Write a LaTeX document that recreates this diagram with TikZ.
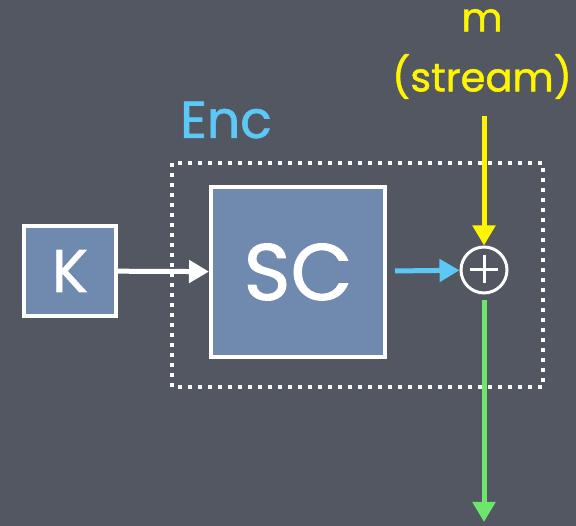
\documentclass[tikz,border=0pt]{standalone}
\usepackage{fontspec}
\setmainfont{Poppins}[FakeBold=1.2]
\usetikzlibrary{arrows.meta, positioning}
\definecolor{slate}{RGB}{82,87,98}
\definecolor{boxblue}{RGB}{112,137,174}
\definecolor{encblue}{RGB}{92,200,245}
\definecolor{streamyellow}{RGB}{255,245,0}
\definecolor{outgreen}{RGB}{110,230,110}

\begin{document}
\begin{tikzpicture}[x=1pt, y=1pt, >={Triangle[width=22pt,length=20pt]},
  block/.style={rectangle, draw=white, line width=4pt, fill=boxblue, text=white, inner sep=0pt},
  flow/.style={->, line width=5pt, draw=#1},
  flow/.default=white]
  % background
  \fill[slate] (0,0) rectangle (576,526);
  \useasboundingbox (0,0) rectangle (576,526);
  \node[block, minimum width=92pt, minimum height=90pt, font=\fontsize{60}{62}\selectfont] (key) at (70,255) {K};
  \node[block, minimum width=174pt, minimum height=170pt, font=\fontsize{80}{82}\selectfont] (sc) at (298,254) {SC};
  \node[circle, draw=white, line width=3pt, minimum size=46pt, inner sep=0pt] (xor) at (484,256) {};
  \draw[white, line width=3pt] (xor.west) ++(10,0) -- ++(28,0);
  \draw[white, line width=3pt] (xor.north) ++(0,-10) -- ++(0,-28);
  \draw[white, line width=4pt, dash pattern=on 4pt off 6pt] (172,139) rectangle (543,363);
  \node[text=encblue, font=\fontsize{52}{54}\selectfont] (enc) at (226,406) {Enc};
  \node[text=streamyellow, font=\fontsize{40}{60}\selectfont, align=center] (msg) at (482,472) {m\\(stream)};
  \coordinate (out) at (484,4);
  \draw[flow] (key) -- (sc);
  \draw[flow=encblue, shorten <=8pt] (sc) -- (xor);
  \draw[flow=streamyellow, shorten <=14pt] (msg.south -| xor) -- (xor.north);
  \draw[flow=outgreen, shorten <=6pt] (xor) -- (out);
\end{tikzpicture}
\end{document}
